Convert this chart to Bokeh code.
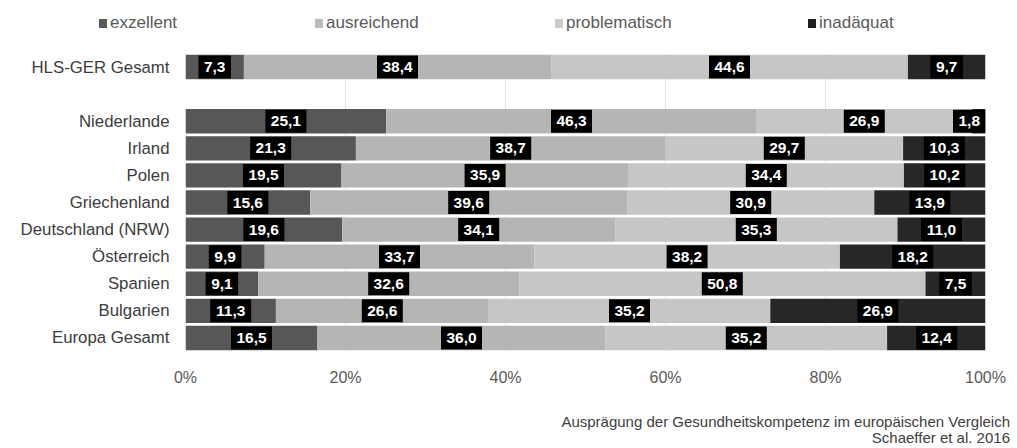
from bokeh.plotting import figure
from bokeh.layouts import column
from bokeh.models import (ColumnDataSource, Div, Range1d, FixedTicker, PrintfTickFormatter)
from bokeh.core.properties import value
from bokeh.embed import file_html
from bokeh.resources import INLINE

categories = ["HLS-GER Gesamt", "Niederlande", "Irland", "Polen", "Griechenland",
              "Deutschland (NRW)", "Österreich", "Spanien", "Bulgarien", "Europa Gesamt"]
exzellent = [7.3, 25.1, 21.3, 19.5, 15.6, 19.6, 9.9, 9.1, 11.3, 16.5]
ausreichend = [38.4, 46.3, 38.7, 35.9, 39.6, 34.1, 33.7, 32.6, 26.6, 36.0]
problematisch = [44.6, 26.9, 29.7, 34.4, 30.9, 35.3, 38.2, 50.8, 35.2, 35.2]
inadaequat = [9.7, 1.8, 10.3, 10.2, 13.9, 11.0, 18.2, 7.5, 26.9, 12.4]
series_names = ["exzellent", "ausreichend", "problematisch", "inadäquat"]
x_ticks = [0, 20, 40, 60, 80, 100]
footer = ["Ausprägung der Gesundheitskompetenz im europäischen Vergleich",
          "Schaeffer et al. 2016"]

colors = ["#575757", "#b5b5b5", "#c6c6c6", "#272727"]
legend_colors = ["#5a5a5a", "#bcbcbc", "#cccccc", "#1e1e1e"]
series = [exzellent, ausreichend, problematisch, inadaequat]
keys = ["s0", "s1", "s2", "s3"]
FONT = "Liberation Sans"
W = 1017
LH = 53
PH = 342
FH = 448 - LH - PH
FRAME_PX = 800  # pixel width of the plotting frame (0..100 %)

# ---------- legend strip (HTML) ----------
legend_left = [99, 315, 555, 808]
items = []
for name, c, lx0 in zip(series_names, legend_colors, legend_left):
    items.append(
        f'<div style="position:absolute;left:{lx0}px;top:14px;height:18px;display:flex;'
        f'align-items:center;white-space:nowrap;">'
        f'<span style="display:inline-block;width:8px;height:9px;background:{c};margin-right:3px;"></span>'
        f'<span style="font-family:\'{FONT}\';font-size:17px;color:#5a5a5a;line-height:18px;">{name}</span>'
        f'</div>')
legend_div = Div(text=f'<div style="position:relative;width:{W}px;height:{LH}px;">' + "".join(items) + "</div>",
                 width=W, height=LH, margin=0)

# ---------- main chart ----------
n_slots = len(categories) + 1  # one empty slot after the first row
ypos = []
for i in range(len(categories)):
    slot = i if i == 0 else i + 1
    ypos.append(n_slots - 1 - slot)

data = {"y": ypos, "cat": categories}
for k, s in zip(keys, series):
    data[k] = s
src = ColumnDataSource(data)

p = figure(width=W, height=PH, output_backend="svg", toolbar_location=None,
           x_range=Range1d(0, 100), y_range=Range1d(-0.5, n_slots - 0.5),
           min_border_left=185, min_border_right=32, min_border_top=0,
           min_border_bottom=44, margin=0)
p.outline_line_color = None
p.background_fill_color = "white"
p.border_fill_color = "white"

p.hbar_stack(keys, y="y", height=0.9, color=colors, line_color=None, source=src)

lx, ly, lt, lw = [], [], [], []
for i in range(len(categories)):
    left = 0.0
    for s in series:
        v = s[i]
        t = f"{v:.1f}".replace(".", ",")
        w = 8.5 * len(t) + 7
        half = (w / 2.0) / FRAME_PX * 100.0
        lx.append(min(left + v / 2.0, 100.0 - half))  # keep the box inside the bar
        ly.append(ypos[i])
        lt.append(t)
        lw.append(w)
        left += v
lsrc = ColumnDataSource(dict(x=lx, y=ly, t=lt, w=lw))
p.rect(x="x", y="y", width="w", width_units="screen", height=23, height_units="screen",
       fill_color="black", line_color=None, source=lsrc)
p.text(x="x", y="y", text="t", source=lsrc, text_align="center",
       text_baseline="middle", text_color="white",
       text_font=value(FONT), text_font_style="bold", text_font_size="15.5px")

p.yaxis.ticker = FixedTicker(ticks=ypos)
p.yaxis.major_label_overrides = {y: c for y, c in zip(ypos, categories)}
p.yaxis.axis_line_color = None
p.yaxis.major_tick_line_color = None
p.yaxis.minor_tick_line_color = None
p.yaxis.major_tick_out = 0
p.yaxis.major_label_standoff = 16
p.yaxis.major_label_text_font = FONT
p.yaxis.major_label_text_font_size = "16.8px"
p.yaxis.major_label_text_color = "#3c3c3c"

p.xaxis.ticker = FixedTicker(ticks=x_ticks)
p.xaxis.formatter = PrintfTickFormatter(format="%d%%")
p.xaxis.axis_line_color = None
p.xaxis.major_tick_line_color = None
p.xaxis.minor_tick_line_color = None
p.xaxis.major_tick_out = 0
p.xaxis.major_label_standoff = 17
p.xaxis.major_label_text_font = FONT
p.xaxis.major_label_text_font_size = "16px"
p.xaxis.major_label_text_color = "#5a5a5a"

p.ygrid.grid_line_color = None
p.xgrid.grid_line_color = "#e6e6e6"
p.xgrid.ticker = FixedTicker(ticks=x_ticks)

# ---------- footer strip (HTML) ----------
foot_html = (f'<div style="width:{W - 7}px;height:{FH}px;text-align:right;'
             f'font-family:\'{FONT}\';font-size:15px;line-height:16px;color:#404040;'
             f'padding-top:19px;box-sizing:border-box;white-space:nowrap;">'
             + "<br>".join(footer) + "</div>")
footer_div = Div(text=foot_html, width=W, height=FH, margin=0)

layout = column(legend_div, p, footer_div, spacing=0)
open("out.html", "w").write(file_html(layout, INLINE))
